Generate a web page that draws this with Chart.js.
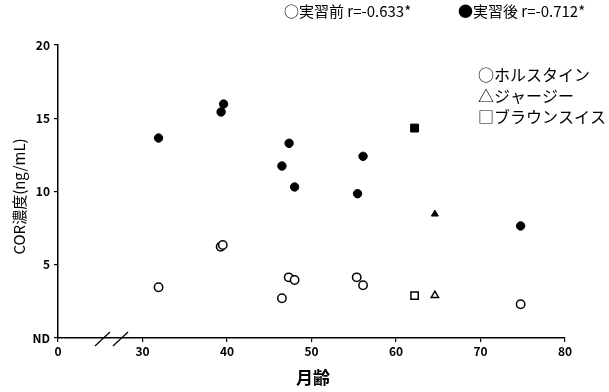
<!DOCTYPE html>
<html>
<head>
<meta charset="utf-8">
<script src="https://cdn.jsdelivr.net/npm/chart.js@4"></script>
<style>
  html, body { margin: 0; padding: 0; background: #fff; }
  #wrap { position: relative; width: 609px; height: 392px; }
</style>
</head>
<body>
<div id="wrap"><canvas id="chart" width="609" height="392"></canvas></div>
<script>
// ホルスタイン (実習前 / 実習後)
const holsteinAgeBefore = [31.9, 39.25, 39.5, 46.5, 47.3, 48.0, 55.35, 56.1, 74.75];
const holsteinBefore    = [3.46, 6.23, 6.35, 2.71, 4.14, 3.96, 4.14, 3.6, 2.3];
const holsteinAgeAfter  = [31.9, 39.3, 39.6, 46.5, 47.35, 48.0, 55.45, 56.1, 74.75];
const holsteinAfter     = [13.65, 15.43, 15.97, 11.74, 13.29, 10.31, 9.85, 12.4, 7.65];
// ジャージー
const jerseyAge    = [64.6];
const jerseyBefore = [2.91];
const jerseyAfter  = [8.46];
// ブラウンスイス
const brownAge    = [62.2];
const brownBefore = [2.89];
const brownAfter  = [14.33];

const xTicks = [20, 30, 40, 50, 60, 70, 80];   // 20 is shown as "0" (broken axis)
const yTicks = [0, 5, 10, 15, 20];              // 0 is shown as "ND"

const topLegend = ['○実習前 r=-0.633*', '●実習後 r=-0.712*'];
const breedLegend = ['○ホルスタイン', '△ジャージー', '□ブラウンスイス'];

const pts = (xs, ys) => xs.map((x, i) => ({ x: x, y: ys[i] }));

function openSet(data, style, r) {
    return { data: data, pointStyle: style, pointRadius: r, pointHoverRadius: r,
             backgroundColor: '#fff', borderColor: '#000', borderWidth: 1.5, showLine: false };
}
function fillSet(data, style, r) {
    return { data: data, pointStyle: style, pointRadius: r, pointHoverRadius: r,
             backgroundColor: '#000', borderColor: '#000', borderWidth: 1, showLine: false };
}

// text + axis break drawn on top
const extras = {
    id: 'extras',
    afterDraw(chart) {
        const ctx = chart.ctx;
        const ys = chart.scales.y;
        ctx.save();
        ctx.fillStyle = '#000';
        ctx.strokeStyle = '#000';
        // axis break marks
        ctx.lineWidth = 1.2;
        [[95, 110], [113, 128]].forEach(([a, b]) => {
            ctx.beginPath();
            ctx.moveTo(a, ys.bottom + 8);
            ctx.lineTo(b, ys.bottom - 6);
            ctx.stroke();
        });
        // top legend
        ctx.font = '15px "Noto Sans CJK JP"';
        ctx.textBaseline = 'middle';
        ctx.textAlign = 'left';
        ctx.fillText(topLegend[0], 284, 11);
        ctx.fillText(topLegend[1], 458, 11);
        // breed legend
        ctx.font = '16px "Noto Sans CJK JP"';
        breedLegend.forEach((t, i) => ctx.fillText(t, 478, 75 + i * 21));
        // y title
        ctx.save();
        ctx.translate(19, (ys.top + ys.bottom) / 2 + 5);
        ctx.rotate(-Math.PI / 2);
        ctx.textAlign = 'center';
        ctx.font = '15px "Noto Sans CJK JP"';
        ctx.fillText('COR濃度(ng/mL)', 0, 0);
        ctx.restore();
        // x title
        ctx.textAlign = 'center';
        ctx.font = 'bold 17px "Noto Sans CJK JP"';
        ctx.fillText('月齢', 313, 378);
        ctx.restore();
    }
};

new Chart(document.getElementById('chart'), {
    type: 'scatter',
    data: {
        datasets: [
            openSet(pts(holsteinAgeBefore, holsteinBefore), 'circle', 4.2),
            fillSet(pts(holsteinAgeAfter, holsteinAfter), 'circle', 4.2),
            openSet(pts(jerseyAge, jerseyBefore), 'triangle', 4.2),
            fillSet(pts(jerseyAge, jerseyAfter), 'triangle', 4),
            openSet(pts(brownAge, brownBefore), 'rect', 5.2),
            fillSet(pts(brownAge, brownAfter), 'rect', 5.6),
        ]
    },
    options: {
        responsive: false,
        animation: false,
        layout: { padding: { top: 45, right: 44, left: 0, bottom: 0 } },
        plugins: { legend: { display: false }, tooltip: { enabled: false } },
        scales: {
            x: {
                type: 'linear', min: 20, max: 80,
                afterBuildTicks: (s) => { s.ticks = xTicks.map(v => ({ value: v })); },
                afterFit: (s) => { s.height = 54; },
                grid: { display: true, drawOnChartArea: false, color: '#000', tickLength: 4, lineWidth: 1.2 },
                border: { color: '#000', width: 1.5 },
                ticks: {
                    color: '#000', padding: 2,
                    font: { family: '"Noto Sans CJK JP"', size: 12, weight: 'bold' },
                    callback: (v) => v === 20 ? '0' : v
                }
            },
            y: {
                type: 'linear', min: 0, max: 20,
                afterBuildTicks: (s) => { s.ticks = yTicks.map(v => ({ value: v })); },
                afterFit: (s) => { s.width = 58; },
                grid: { display: true, drawOnChartArea: false, color: '#000', tickLength: 4, lineWidth: 1.2 },
                border: { color: '#000', width: 1.5 },
                ticks: {
                    color: '#000', padding: 4,
                    font: { family: '"Noto Sans CJK JP"', size: 12, weight: 'bold' },
                    callback: (v) => v === 0 ? 'ND' : v
                }
            }
        }
    },
    plugins: [extras]
});
</script>
</body>
</html>
